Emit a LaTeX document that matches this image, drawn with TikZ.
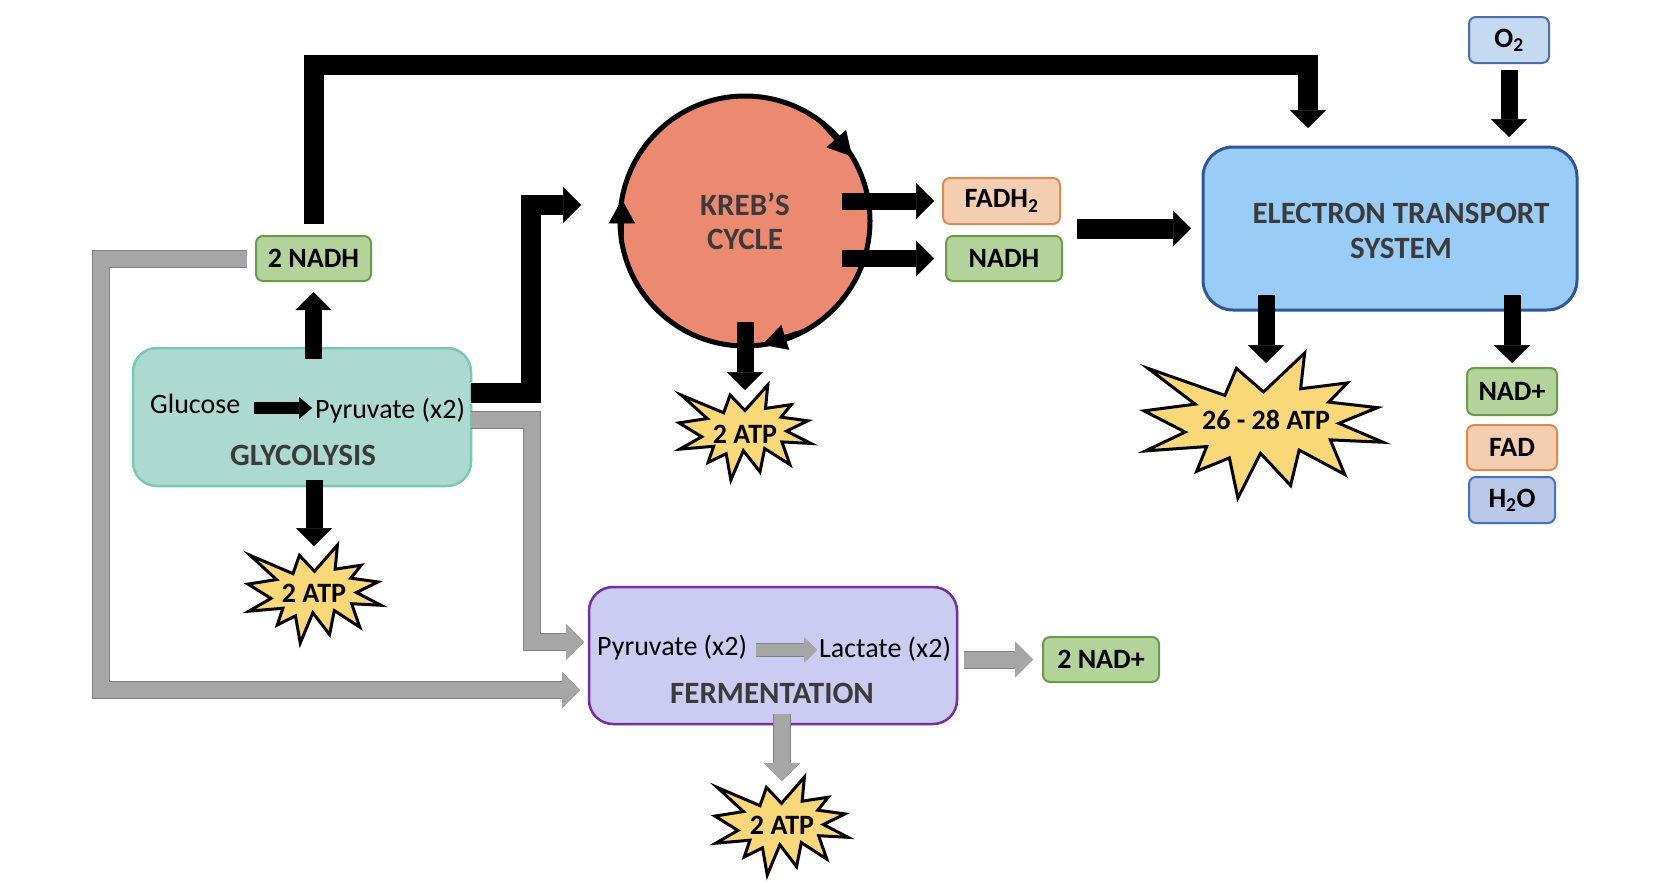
\documentclass[tikz,border=0pt]{standalone}
\usepackage{fontspec}
\setmainfont{Carlito}
\usepackage{xcolor}
\usepackage{tikz}
\usetikzlibrary{positioning}
\usetikzlibrary{arrows.meta}

\definecolor{glycfill}{HTML}{ACDAD0}
\definecolor{glycline}{HTML}{79C7B4}
\definecolor{greenfill}{HTML}{B3D39B}
\definecolor{greenline}{HTML}{6B9A48}
\definecolor{orangefill}{HTML}{F3CEB0}
\definecolor{orangeline}{HTML}{E2884A}
\definecolor{krebfill}{HTML}{EC8A71}
\definecolor{etsfill}{HTML}{99CCF7}
\definecolor{etsline}{HTML}{30559A}
\definecolor{fermfill}{HTML}{CCCCF3}
\definecolor{fermline}{HTML}{7030A0}
\definecolor{otwofill}{HTML}{C5D9EF}
\definecolor{otwoline}{HTML}{4A6DB1}
\definecolor{waterfill}{HTML}{B9C8E6}
\definecolor{waterline}{HTML}{4472C4}
\definecolor{burstfill}{HTML}{F8D877}
\definecolor{grayfill}{HTML}{A6A6A6}
\definecolor{grayedge}{HTML}{808080}
\definecolor{headtext}{HTML}{3B3B3B}

\newcommand{\atpburst}[3]{\filldraw[burst,shift={(#1)},xscale=#2/216,yscale=#3/216]
  (108,58) -- (145.22,0) -- (141.55,53.25) -- (183.8,44.57) -- (167.02,73.15) -- (210.97,81.37)
  -- (176.07,104.75) -- (216,132.9) -- (168.37,129.42) -- (181.45,180.95) -- (140.2,144.57)
  -- (132.47,197.37) -- (105.32,149.35) -- (84.85,216) -- (77.15,156.27) -- (47.62,176.17)
  -- (56.67,139.37) -- (1.35,145.87) -- (37.22,117.75) -- (0,86.15) -- (46.27,76.17)
  -- (3.7,22.95) -- (73.12,63.2) -- (83.52,22.95) -- cycle;}

\begin{document}
\begin{tikzpicture}[x=1pt,y=-1pt,
  txt/.style={inner sep=0pt,font=\fontsize{28}{33}\selectfont},
  heading/.style={inner sep=0pt,text=headtext,font=\bfseries\fontsize{31}{35}\selectfont},
  smallbox/.style={rectangle,rounded corners=7pt,line width=2pt,minimum height=45pt,inner sep=0pt,outer sep=0pt,font=\bfseries\fontsize{28}{33}\selectfont},
  greenbox/.style={smallbox,fill=greenfill,draw=greenline},
  orangebox/.style={smallbox,fill=orangefill,draw=orangeline},
  otwobox/.style={smallbox,fill=otwofill,draw=otwoline},
  waterbox/.style={smallbox,fill=waterfill,draw=waterline},
  bigbox/.style={rectangle,rounded corners=24pt,line width=2.5pt,inner sep=0pt,outer sep=0pt},
  glycbox/.style={bigbox,fill=glycfill,draw=glycline},
  fermbox/.style={bigbox,fill=fermfill,draw=fermline},
  etsbox/.style={bigbox,rounded corners=30pt,line width=3pt,fill=etsfill,draw=etsline},
  krebcircle/.style={circle,minimum size=250pt,inner sep=0pt,outer sep=0pt,line width=5pt,draw=black,fill=krebfill,align=center,text=headtext,font=\bfseries\fontsize{31}{34}\selectfont},
  burst/.style={fill=burstfill,draw=black,line width=3pt,line join=miter},
  atptext/.style={inner sep=0pt,font=\bfseries\fontsize{28}{33}\selectfont},
  blackarrow/.style={line width=17pt,-{Triangle[length=18pt,width=36pt,line width=0.5pt]}},
  bigarrow/.style={line width=20pt,-{Triangle[length=18pt,width=36pt,line width=0.5pt]}},
  smallarrow/.style={line width=12pt,-{Triangle[length=13pt,width=22pt,line width=0.5pt]}},
  cycletip/.style={line width=5pt,-{Triangle[length=24pt,width=26pt,line width=0.5pt]}},
  grayarrow/.style={draw=grayfill,line width=16pt,
    preaction={draw=grayedge,line width=18pt,-{Triangle[length=18pt,width=36pt,line width=1.5pt,color=grayedge,fill=grayfill]}},
    -{Triangle[length=18pt,width=36pt,line width=0pt,color=grayfill,fill=grayfill]}},
  smallgray/.style={draw=grayfill,line width=12pt,
    preaction={draw=grayedge,line width=14pt,-{Triangle[length=13pt,width=25pt,line width=1.5pt,color=grayedge,fill=grayfill]}},
    -{Triangle[length=13pt,width=25pt,line width=0pt,color=grayfill,fill=grayfill]}}]
\useasboundingbox (0,0) rectangle (1654,886);

\node[glycbox,minimum width=338pt,minimum height=138pt] (glyc) at (302,417) {};
\node[txt,anchor=base west] (glu) at (150,413) {Glucose};
\node[txt,anchor=base west] (pyrA) at (315,418) {Pyruvate (x2)};
\node[heading,anchor=base] (glycname) at (303,465) {GLYCOLYSIS};
\node[greenbox,minimum width=115pt] (nadhA) at (313.5,258.5) {2 NADH};
\node[krebcircle] (kreb) at (745,221) {KREB'S\\CYCLE};
\node[orangebox,minimum width=117pt,minimum height=46pt] (fadh) at (1001.5,201) {FADH\textsubscript{2}};
\node[greenbox,minimum width=116pt] (nadhB) at (1004,258.5) {NADH};
\node[etsbox,minimum width=374pt,minimum height=163pt] (ets) at (1390,228.5) {};
\node[heading,align=center] (etsname) at (1401,230.5) {ELECTRON TRANSPORT\\SYSTEM};
\node[otwobox,minimum width=80pt,minimum height=46pt] (otwo) at (1509,40) {O\textsubscript{2}};
\node[greenbox,minimum width=90pt,minimum height=47pt] (nadp) at (1512,391.5) {NAD+};
\node[orangebox,minimum width=90pt] (fad) at (1512,447.5) {FAD};
\node[waterbox,minimum width=86pt,minimum height=46pt] (water) at (1512,500) {H\textsubscript{2}O};
\node[fermbox,minimum width=368pt,minimum height=137pt] (ferm) at (773,655.5) {};
\node[txt,anchor=base west] (pyrB) at (597,655) {Pyruvate (x2)};
\node[txt,anchor=base west] (lac) at (819,657) {Lactate (x2)};
\node[heading,anchor=base] (fermname) at (772,703) {FERMENTATION};
\node[greenbox,minimum width=116pt] (nadpB) at (1101,659.5) {2 NAD+};

\atpburst{248,545}{133}{98}
\node[atptext] (atpA) at (314,593) {2 ATP};
\atpburst{679,385}{132}{95}
\node[atptext] (atpB) at (745,434) {2 ATP};
\atpburst{1144,353}{239}{145}
\node[atptext] (atpC) at (1266,420) {26 - 28 ATP};
\atpburst{715,777}{133}{98}
\node[atptext] (atpD) at (782,825) {2 ATP};

\coordinate (etscorner) at (1308,65);
\coordinate (krebin) at (581,205);
\coordinate (fadhout) at (1077,228.5);

\draw[grayarrow,shorten <=9pt,shorten >=9pt] (nadhA.west) -| ([xshift=-488pt,yshift=-34.5pt]ferm.west) -- ([yshift=-34.5pt]ferm.west);
\draw[grayarrow,shorten >=5pt] ([yshift=-3pt]glyc.east) -| ([xshift=-57pt,yshift=13.5pt]ferm.west) -- ([yshift=13.5pt]ferm.west);
\draw[grayarrow,shorten <=7pt,shorten >=10pt] (ferm.east |- nadpB.west) -- (nadpB.west);
\draw[grayarrow,shorten <=-10pt,shorten >=44pt] (atpD.center |- ferm.south) -- (atpD.center);
\draw[smallgray,shorten <=9pt,shorten >=2pt] ([yshift=5pt]pyrB.base east) -- ([yshift=5pt]pyrB.base east -| lac.west);

\draw[smallarrow,shorten <=14pt,shorten >=3pt] ([yshift=5pt]glu.base east) -- ([yshift=5pt]glu.base east -| pyrA.west);
\draw[blackarrow,shorten <=-11pt,shorten >=11pt] (nadhA.south |- glyc.north) -- (nadhA.south);
\draw[blackarrow,shorten <=-6pt,shorten >=47pt] (atpA.center |- glyc.south) -- (atpA.center);
\draw[bigarrow,shorten <=12pt,shorten >=19pt] (nadhA.north) |- (etscorner) -- (etscorner |- ets.north);
\draw[bigarrow] ([yshift=24pt]glyc.east) -| ([xshift=-50pt]krebin) -- (krebin);
\draw[cycletip] (kreb.52) -- (kreb.31);
\draw[cycletip] (kreb.190) -- (kreb.170);
\draw[cycletip] (kreb.-62) -- (kreb.-82);
\draw[blackarrow,shorten <=97pt,shorten >=9pt] (kreb.center |- fadh.west) -- (fadh.west);
\draw[blackarrow,shorten <=97pt,shorten >=12pt] (kreb.center |- nadhB.west) -- (nadhB.west);
\draw[blackarrow,shorten <=101pt,shorten >=44pt] (atpB.center |- kreb.center) -- (atpB.center);
\draw[bigarrow,shorten >=12pt] (fadhout) -- (ets.west);
\draw[blackarrow,shorten <=7pt,shorten >=10pt] (otwo.south) -- (ets.north -| otwo.south);
\draw[blackarrow,shorten <=-15pt,shorten >=57pt] (atpC.center |- ets.south) -- (atpC.center);
\draw[blackarrow,shorten <=-15pt,shorten >=5pt] (nadp.north |- ets.south) -- (nadp.north);

\end{tikzpicture}
\end{document}
